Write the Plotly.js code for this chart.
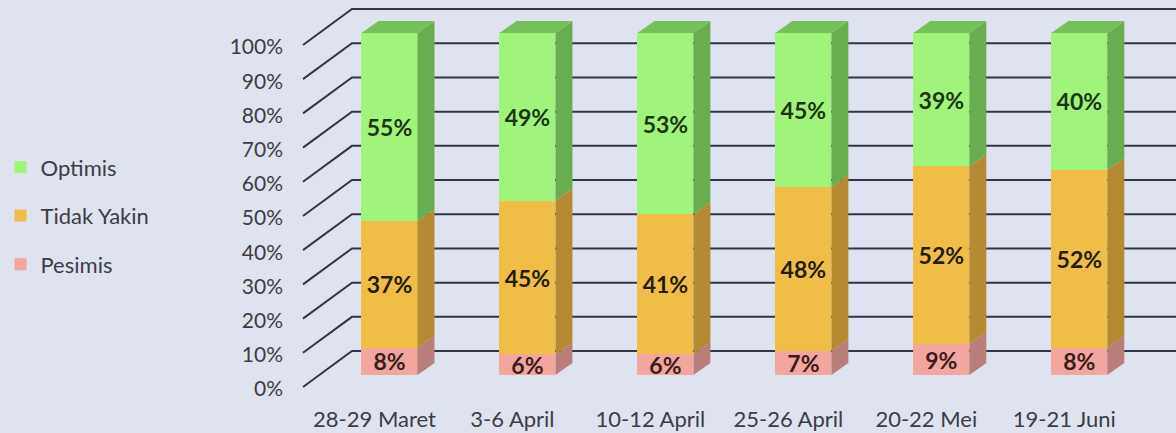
<!DOCTYPE html>
<html><head><meta charset="utf-8">
<script src="https://cdn.plot.ly/plotly-3.0.1.min.js"></script>
<style>html,body{margin:0;padding:0;background:#dfe3f0;} #chart{width:1176px;height:433px;}</style>
</head><body><div id="chart"></div>
<script>
// ---- data ----
const categories = ['28-29 Maret', '3-6 April', '10-12 April', '25-26 April', '20-22 Mei', '19-21 Juni'];
const pesimis    = [8, 6, 6, 7, 9, 8];
const tidakYakin = [37, 45, 41, 48, 52, 52];
const optimis    = [55, 49, 53, 45, 39, 40];
const yTicks      = [0, 10, 20, 30, 40, 50, 60, 70, 80, 90, 100];
const yTickLabels = ['0%', '10%', '20%', '30%', '40%', '50%', '60%', '70%', '80%', '90%', '100%'];

// ---- pseudo-3D geometry (axis units) ----
const BAR_W = 0.406, DEPTH_X = 0.123, DEPTH_Y = 3.5;
const WALL_FRONT_X = -0.627, WALL_BACK_X = -0.272, WALL_FRONT_DY = -3.5, WALL_BACK_DY = 7.0, WALL_END_X = 6.0;
const LABEL_DY = -4.1, XLABEL_DX = -0.109;
const FONT = 'Lato, "Open Sans", sans-serif';

const idx = categories.map((c, i) => i);

function sideFaces(base, vals) {
  const xs = [], ys = [];
  idx.forEach(i => {
    const x0 = i + BAR_W / 2, y0 = base[i], y1 = base[i] + vals[i];
    xs.push(x0, x0 + DEPTH_X, x0 + DEPTH_X, x0, x0, null);
    ys.push(y0, y0 + DEPTH_Y, y1 + DEPTH_Y, y1, y0, null);
  });
  return {xs, ys};
}
function topFaces(tops) {
  const xs = [], ys = [];
  idx.forEach(i => {
    const xl = i - BAR_W / 2, xr = i + BAR_W / 2, t = tops[i];
    xs.push(xl, xr, xr + DEPTH_X, xl + DEPTH_X, xl, null);
    ys.push(t, t, t + DEPTH_Y, t + DEPTH_Y, t, null);
  });
  return {xs, ys};
}

const zeros = idx.map(() => 0);
const base2 = idx.map(i => pesimis[i]);
const base3 = idx.map(i => pesimis[i] + tidakYakin[i]);
const tops  = idx.map(i => pesimis[i] + tidakYakin[i] + optimis[i]);

// grid (back wall lines + left wall diagonals)
const gx = [], gy = [];
yTicks.forEach(t => {
  gx.push(WALL_FRONT_X, WALL_BACK_X, WALL_END_X, null);
  gy.push(t + WALL_FRONT_DY, t + WALL_BACK_DY, t + WALL_BACK_DY, null);
});

const series = [
  {name: 'Pesimis', vals: pesimis, base: zeros, front: '#f2a69d', side: '#b97d7a', txt: '#3a1c1c', rank: 3},
  {name: 'Tidak Yakin', vals: tidakYakin, base: base2, front: '#f0be47', side: '#b68a33', txt: '#231c05', rank: 2},
  {name: 'Optimis', vals: optimis, base: base3, front: '#a0f47c', side: '#68ad4f', txt: '#1c3512', rank: 1}
];

const traces = [{
  type: 'scatter', mode: 'lines', x: gx, y: gy, xaxis: 'x', yaxis: 'y',
  line: {color: '#30364a', width: 2}, showlegend: false, hoverinfo: 'skip', connectgaps: false
}];

series.forEach(s => {
  traces.push({
    type: 'bar', name: s.name, x: idx, y: s.vals, width: BAR_W, xaxis: 'x', yaxis: 'y2',
    marker: {color: s.front, line: {width: 0}},
    text: s.vals.map(v => v + '%'), textposition: 'inside', insidetextanchor: 'middle', textangle: 0,
    textfont: {family: FONT, size: 23, weight: 'bold', color: s.txt},
    legendgroup: s.name, legendrank: s.rank, hoverinfo: 'skip'
  });
});
series.forEach(s => {
  const f = sideFaces(s.base, s.vals);
  traces.push({
    type: 'scatter', mode: 'lines', x: f.xs, y: f.ys, xaxis: 'x', yaxis: 'y2',
    fill: 'toself', fillcolor: s.side, line: {width: 0, color: s.side},
    showlegend: false, hoverinfo: 'skip'
  });
});
const tf = topFaces(tops);
traces.push({
  type: 'scatter', mode: 'lines', x: tf.xs, y: tf.ys, xaxis: 'x', yaxis: 'y2',
  fill: 'toself', fillcolor: '#74c05a', line: {width: 0, color: '#74c05a'},
  showlegend: false, hoverinfo: 'skip'
});

const yRange = [-5.848, 109.649];
const layout = {
  width: 1176, height: 433,
  margin: {l: 300, r: 0, t: 0, b: 38, pad: 0},
  paper_bgcolor: '#dfe3f0', plot_bgcolor: '#dfe3f0',
  barmode: 'stack', bargap: 0,
  hovermode: false,
  showlegend: true,
  uniformtext: {mode: 'show', minsize: 23},
  legend: {
    x: -0.3419, xanchor: 'left', y: 0.63, yanchor: 'top',
    font: {family: FONT, size: 22, color: '#3c3c46'},
    tracegroupgap: 17, traceorder: 'grouped', bgcolor: 'rgba(0,0,0,0)'
  },
  xaxis: {
    range: [-0.6487, 5.7009], tickmode: 'array',
    tickvals: idx.map(i => i + XLABEL_DX), ticktext: categories,
    showgrid: false, zeroline: false, showline: false, ticks: '',
    tickfont: {family: FONT, size: 22, color: '#3c3c46'}, ticklabelstandoff: 9, fixedrange: true
  },
  yaxis: {
    range: yRange, tickmode: 'array',
    tickvals: yTicks.map(v => v + LABEL_DY), ticktext: yTickLabels,
    showgrid: false, zeroline: false, showline: false, ticks: '',
    tickfont: {family: FONT, size: 21, color: '#3c3c46'}, ticklabelstandoff: 16, fixedrange: true
  },
  yaxis2: {range: yRange, overlaying: 'y', visible: false, fixedrange: true}
};

Plotly.newPlot('chart', traces, layout, {displayModeBar: false, staticPlot: true});
</script>
</body></html>
